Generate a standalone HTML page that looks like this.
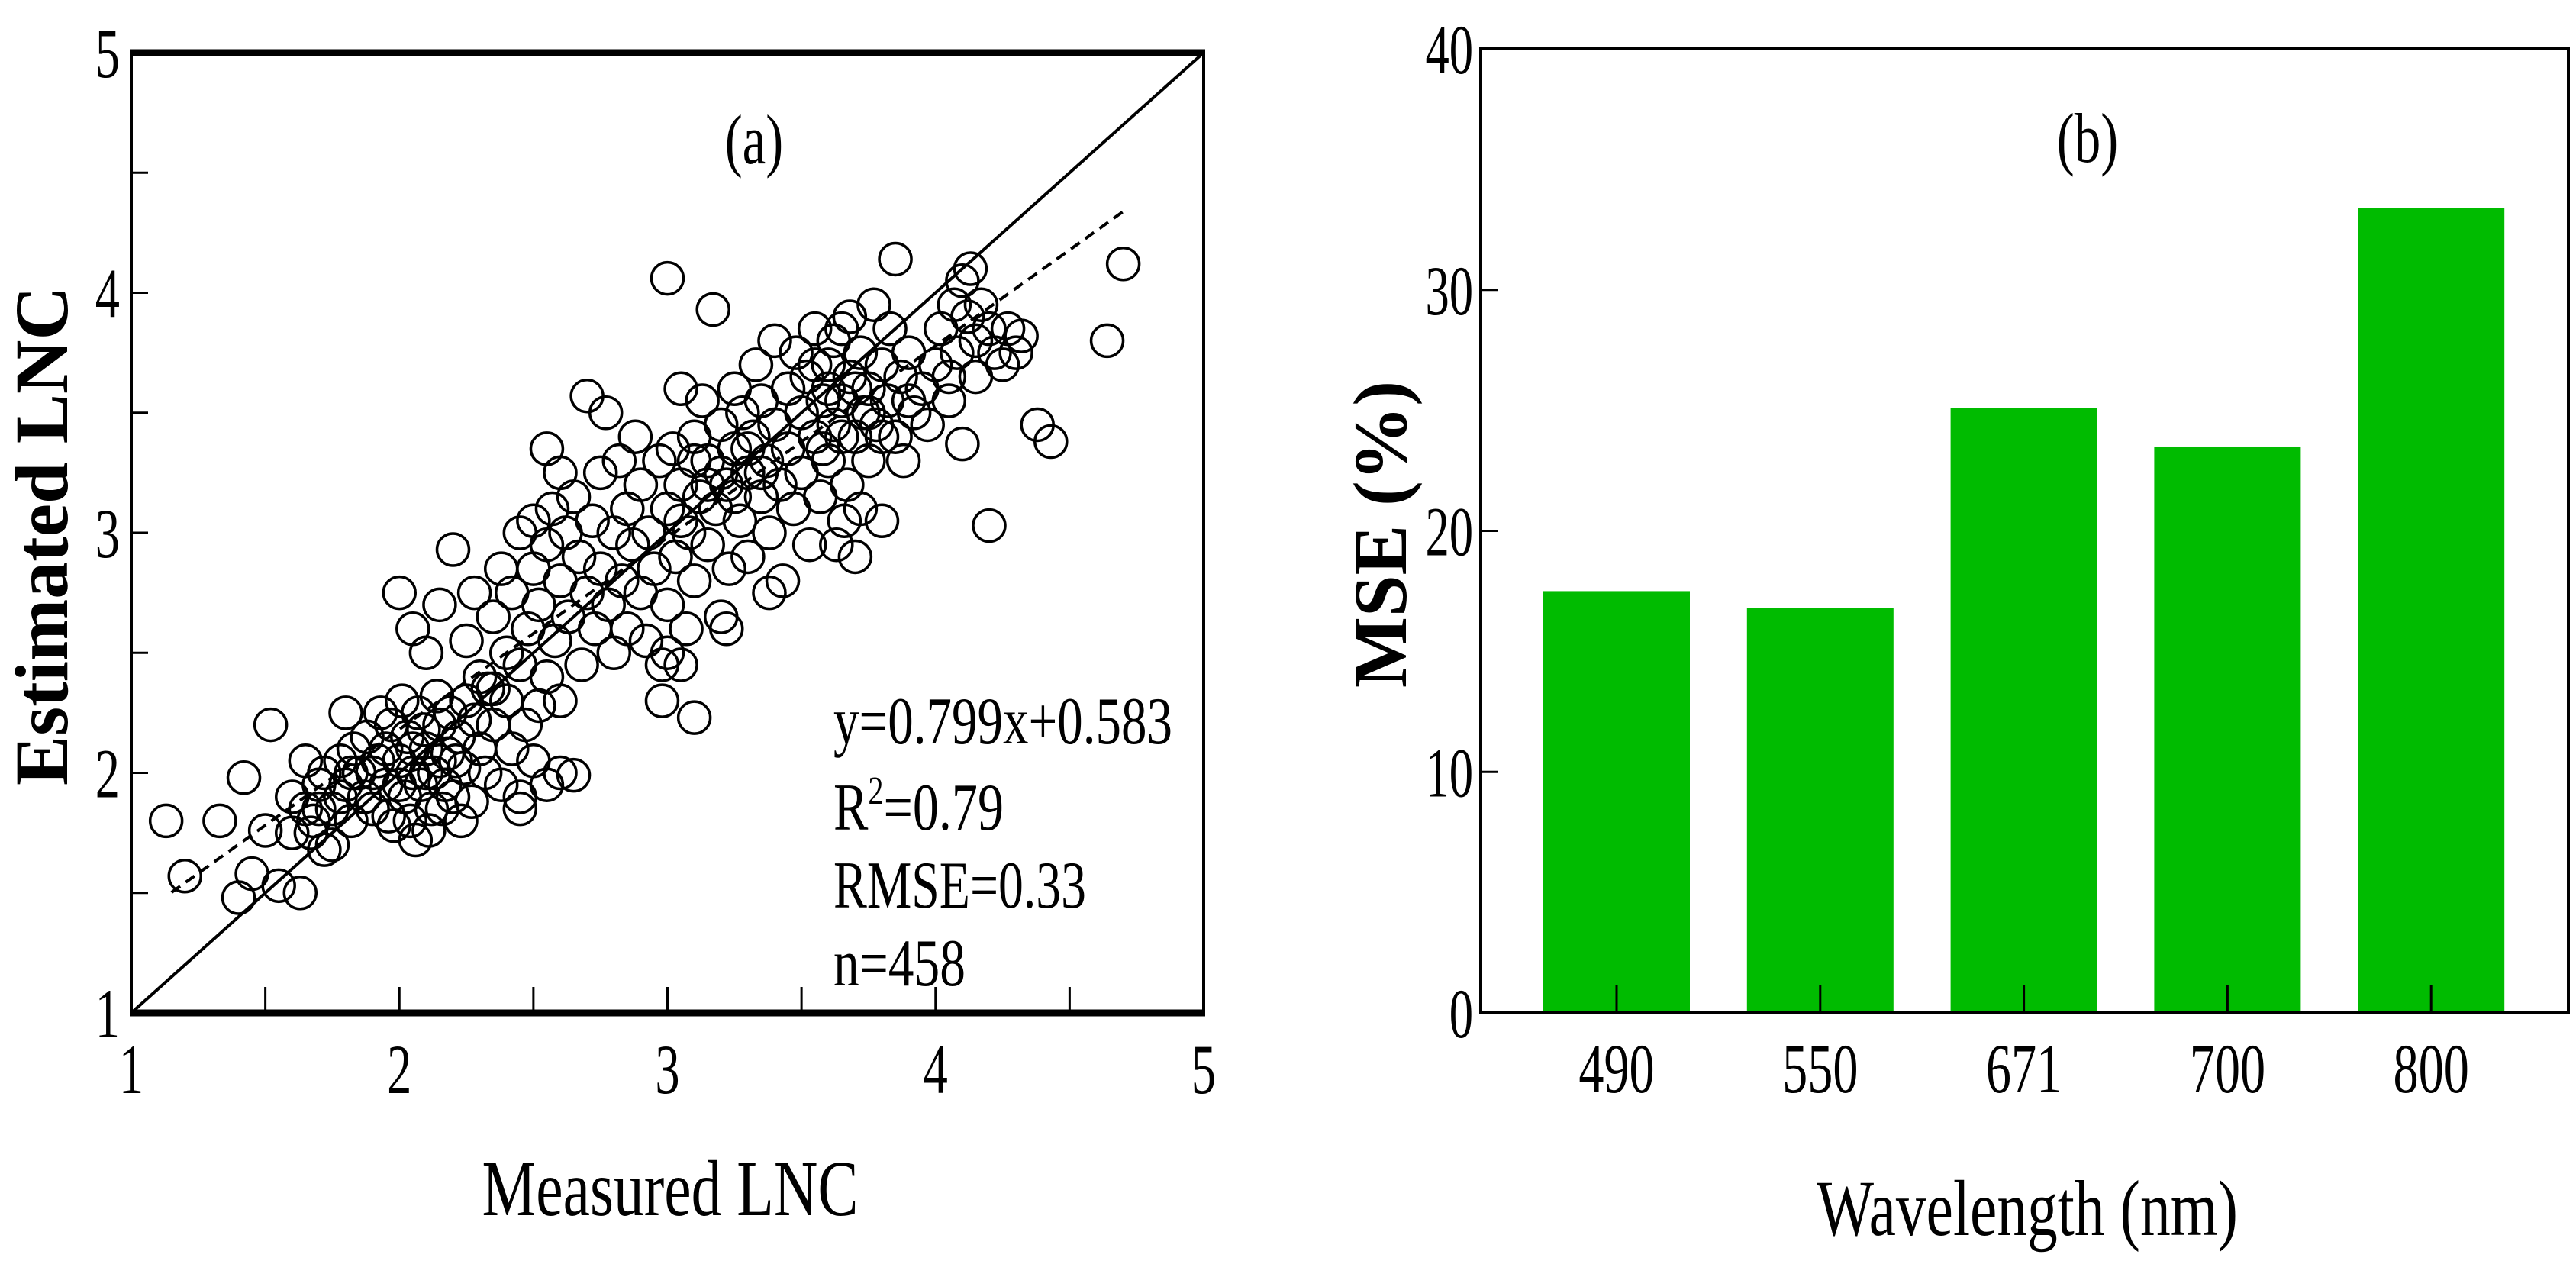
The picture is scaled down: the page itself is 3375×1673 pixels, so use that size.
<!DOCTYPE html>
<html><head><meta charset="utf-8"><style>
html,body{margin:0;padding:0;background:#fff;}
svg{display:block;font-family:"Liberation Serif",serif;}
</style></head><body>
<svg id="fig" width="3375" height="1673" viewBox="0 0 3375 1673" xmlns="http://www.w3.org/2000/svg">
<g id="pa"></g>
<g id="pb"></g>
</svg>
<script>
// ---- Panel (a) data ----
const scatterX = [1.13,1.2,1.33,1.4,1.42,1.45,1.5,1.52,1.55,1.6,1.63,1.65,1.67,1.7,1.72,1.75,1.78,1.8,1.82,1.6,1.7,1.75,1.78,1.82,1.65,1.68,1.72,
1.85,1.88,1.9,1.92,1.95,1.97,1.98,2.0,2.02,2.03,2.05,2.06,2.07,2.08,2.1,2.12,2.13,2.15,2.17,2.18,2.2,2.22,2.24,2.25,2.27,2.3,2.32,2.35,2.38,2.4,2.42,2.45,2.45,2.47,2.5,2.52,2.55,2.6,1.83,1.8,1.87,1.93,1.96,2.01,2.04,2.09,2.11,2.14,2.16,2.19,2.21,2.23,2.28,2.33,1.9,2.0,2.05,2.1,1.95,2.15,
2.0,2.05,2.1,2.15,2.2,2.25,2.28,2.3,2.35,2.38,2.4,2.42,2.45,2.48,2.5,2.5,2.52,2.55,2.57,2.58,2.6,2.62,2.63,2.65,2.67,2.68,2.7,2.7,2.72,2.73,2.75,2.75,2.77,2.78,2.8,2.8,2.82,2.83,2.85,2.85,2.87,2.88,2.9,2.9,2.92,2.93,2.95,2.97,2.98,2.65,2.6,2.55,2.45,2.35,2.6,2.55,
3.0,3.0,3.0,3.02,3.03,3.05,3.05,3.07,3.08,3.1,3.1,3.1,3.12,3.13,3.15,3.15,3.17,3.18,3.2,3.2,3.22,3.23,3.25,3.25,3.27,3.28,3.3,3.3,3.32,3.33,3.35,3.35,3.37,3.38,3.4,3.4,3.42,3.43,3.45,3.45,3.47,3.48,3.5,3.5,3.52,3.53,3.55,3.55,3.57,3.58,3.2,3.25,3.3,3.35,3.15,3.1,3.05,3.22,3.38,3.0,2.98,3.05,
3.6,3.6,3.62,3.63,3.65,3.65,3.67,3.68,3.7,3.7,3.72,3.73,3.75,3.75,3.77,3.78,3.8,3.8,3.82,3.83,3.85,3.85,3.87,3.88,3.9,3.9,3.92,3.95,3.97,3.6,3.55,3.58,3.65,3.7,3.75,3.8,3.62,3.68,3.72,3.66,
4.0,4.02,4.05,4.07,4.08,4.1,4.1,4.12,4.13,4.15,4.17,4.2,4.2,4.22,4.25,4.27,4.3,4.32,4.05,4.15,4.38,4.43,4.64,4.7];
const scatterY = [1.8,1.57,1.8,1.48,1.98,1.58,1.76,2.2,1.53,1.9,1.5,2.05,1.75,1.95,1.68,1.85,2.05,2.25,1.8,1.75,1.85,1.7,1.9,2.0,1.85,1.8,2.0,
2.0,2.15,1.85,2.05,1.95,2.2,1.78,2.05,1.9,2.15,2.0,1.72,2.25,1.95,2.1,1.85,2.0,2.2,1.95,2.08,1.9,2.15,2.02,2.3,1.88,2.1,2.0,2.2,1.95,2.3,2.1,1.9,1.85,2.2,2.05,2.28,1.95,2.0,2.1,1.95,1.9,2.25,1.82,2.3,1.8,2.18,1.76,2.32,1.85,2.25,2.05,1.8,2.22,2.35,2.0,1.95,2.1,2.0,2.1,2.05,
2.75,2.6,2.5,2.7,2.93,2.55,2.75,2.4,2.65,2.85,2.5,2.75,3.0,2.6,2.85,3.05,2.7,2.95,3.1,2.55,2.8,3.0,2.65,3.15,2.9,2.45,2.75,3.57,3.05,2.6,3.25,2.85,3.5,2.7,3.0,2.5,3.3,2.8,3.1,2.6,2.95,3.4,2.75,3.2,2.55,3.0,2.85,3.3,2.45,1.99,2.3,2.4,2.45,2.35,3.25,3.35,
3.1,2.7,4.06,3.35,2.9,3.2,3.6,2.6,3.0,3.4,2.23,2.8,3.15,3.55,2.95,3.3,3.93,3.1,2.65,3.45,3.2,2.85,3.35,3.6,3.05,3.5,3.25,2.9,3.4,3.7,3.15,3.55,3.3,3.0,3.45,3.8,3.2,2.8,3.6,3.35,3.1,3.75,3.5,3.25,3.65,2.95,3.4,3.85,3.15,3.55,3.25,3.15,3.35,3.25,3.2,3.3,3.05,2.6,2.75,2.5,2.3,2.45,
3.3,3.7,3.45,2.95,3.85,3.55,3.2,3.65,3.4,2.9,3.75,3.5,3.6,3.3,3.95,3.45,3.7,3.05,3.55,3.85,4.14,3.4,3.65,3.3,3.55,3.75,3.5,3.6,3.45,3.6,3.7,3.35,3.4,3.6,3.5,3.4,3.8,3.9,3.1,3.05,
3.7,3.85,3.55,3.95,3.75,4.05,3.37,3.9,4.1,3.8,3.95,3.85,3.03,3.75,3.7,3.85,3.75,3.82,3.65,3.65,3.45,3.38,3.8,4.12];
const axisTicksA = [1,2,3,4,5];
const fitSlope = 0.799, fitIntercept = 0.583, fitRange = [1.15,4.7];
const statLabels = ["y=0.799x+0.583","R2=0.79","RMSE=0.33","n=458"];
// ---- Panel (b) data ----
const wavelengths = ["490","550","671","700","800"];
const mseValues = [17.5,16.8,25.1,23.5,33.4];
const mseTicks = [0,10,20,30,40];
</script>
<script>
const NS="http://www.w3.org/2000/svg";
function mk(parent,tag,attrs){const e=document.createElementNS(NS,tag);for(const k in attrs)e.setAttribute(k,attrs[k]);parent.appendChild(e);return e;}
function label(parent,str,x,y,size,sx,anchor,extra){
  const t=mk(parent,'text',{x:x/sx,y:y+size*0.35,'font-size':size,'text-anchor':anchor||'middle',transform:'scale('+sx+',1)'});
  if(extra)for(const k in extra)t.setAttribute(k,extra[k]);
  t.textContent=str;return t;}
// ===== Panel A =====
const pa=document.getElementById('pa');
const AX0=172,AX1=1577,AY0=1327,AY1=69;
const ax=v=>AX0+(v-1)/4*(AX1-AX0), ay=v=>AY0-(v-1)/4*(AY0-AY1);
// diagonal
let l=mk(pa,'line',{x1:ax(1),y1:ay(1),x2:ax(5),y2:ay(5),stroke:'#000','stroke-width':4});


// points
scatterX.forEach((xv,i)=>{
  const c=mk(pa,'circle',{cx:ax(xv),cy:ay(scatterY[i]),r:21,fill:'none',stroke:'#000','stroke-width':3.5});
  
  
});
// fit line
l=mk(pa,'line',{x1:ax(fitRange[0]),y1:ay(fitSlope*fitRange[0]+fitIntercept),x2:ax(fitRange[1]),y2:ay(fitSlope*fitRange[1]+fitIntercept),stroke:'#000','stroke-width':4,'stroke-dasharray':'14,9'});


// frame
let r=mk(pa,'rect',{x:AX0,y:AY1,width:AX1-AX0,height:AY0-AY1,fill:'none',stroke:'#000','stroke-width':4});


mk(pa,'line',{x1:AX0-2,y1:AY1,x2:AX1+2,y2:AY1,stroke:'#000','stroke-width':9});
mk(pa,'line',{x1:AX0-2,y1:AY0,x2:AX1+2,y2:AY0,stroke:'#000','stroke-width':9});
// ticks every 0.5
for(let v=1.5;v<5;v+=0.5){
  mk(pa,'line',{x1:ax(v),y1:AY0,x2:ax(v),y2:AY0-34,stroke:'#000','stroke-width':3});
  mk(pa,'line',{x1:AX0,y1:ay(v),x2:AX0+22,y2:ay(v),stroke:'#000','stroke-width':3});
}
axisTicksA.forEach(v=>{
  let t=label(pa,String(v),ax(v),1400,92,0.7,'middle');
  
  
  t=label(pa,String(v),157,ay(v),92,0.7,'end');
  
  
});
let t=label(pa,'(a)',988,182,92,0.75,'middle');


const statY=[943,1056,1158,1260], statW=[444,223,331,173];
statLabels.forEach((s,i)=>{
  let tt;
  if(s.startsWith('R2')){
    tt=mk(pa,'text',{x:1092,y:statY[i]+31,'font-size':88,textLength:statW[i],lengthAdjust:'spacingAndGlyphs'});
    tt.innerHTML='R<tspan dy="-34" font-size="52">2</tspan><tspan dy="34">=0.79</tspan>';
  } else {
    tt=mk(pa,'text',{x:1092,y:statY[i]+31,'font-size':88,textLength:statW[i],lengthAdjust:'spacingAndGlyphs'});
    tt.textContent=s;
  }
  
  
});
t=mk(pa,'text',{x:0,y:0,'font-size':100,'font-weight':'bold','text-anchor':'middle',transform:'translate(88,702) rotate(-90)',textLength:654,lengthAdjust:'spacingAndGlyphs'});
t.textContent='Estimated LNC';


t=mk(pa,'text',{x:878,y:1592,'font-size':104,'text-anchor':'middle',textLength:493,lengthAdjust:'spacingAndGlyphs'});
t.textContent='Measured LNC';


// ===== Panel B =====
const pb=document.getElementById('pb');
const BX0=1940,BX1=3365,BY0=1327,BY1=64;
const by=v=>BY0-v/40*(BY0-BY1);
const bx=i=>2118+i*266.8;
const BW=192;
mseValues.forEach((v,i)=>{
  const b=mk(pb,'rect',{x:bx(i)-BW/2,y:by(v),width:BW,height:BY0-by(v),fill:'#00bb00'});
  
  
  mk(pb,'line',{x1:bx(i),y1:BY0,x2:bx(i),y2:BY0-36,stroke:'#000','stroke-width':3});
  const lt=label(pb,wavelengths[i],bx(i),1399,92,0.72,'middle');
  
  
});
r=mk(pb,'rect',{x:BX0,y:BY1,width:BX1-BX0,height:BY0-BY1,fill:'none',stroke:'#000','stroke-width':4});


mseTicks.forEach(v=>{
  if(v>0&&v<40)mk(pb,'line',{x1:BX0,y1:by(v),x2:BX0+22,y2:by(v),stroke:'#000','stroke-width':3});
  const lt=label(pb,String(v),1930,by(v),92,0.68,'end');
  
  
});
t=label(pb,'(b)',2735,180,92,0.75,'middle');


t=mk(pb,'text',{x:0,y:0,'font-size':100,'font-weight':'bold','text-anchor':'middle',transform:'translate(1842,700) rotate(-90)',textLength:402,lengthAdjust:'spacingAndGlyphs'});
t.textContent='MSE (%)';


t=mk(pb,'text',{x:2656,y:1618,'font-size':104,'text-anchor':'middle',textLength:552,lengthAdjust:'spacingAndGlyphs'});
t.textContent='Wavelength (nm)';


</script>
</body></html>
